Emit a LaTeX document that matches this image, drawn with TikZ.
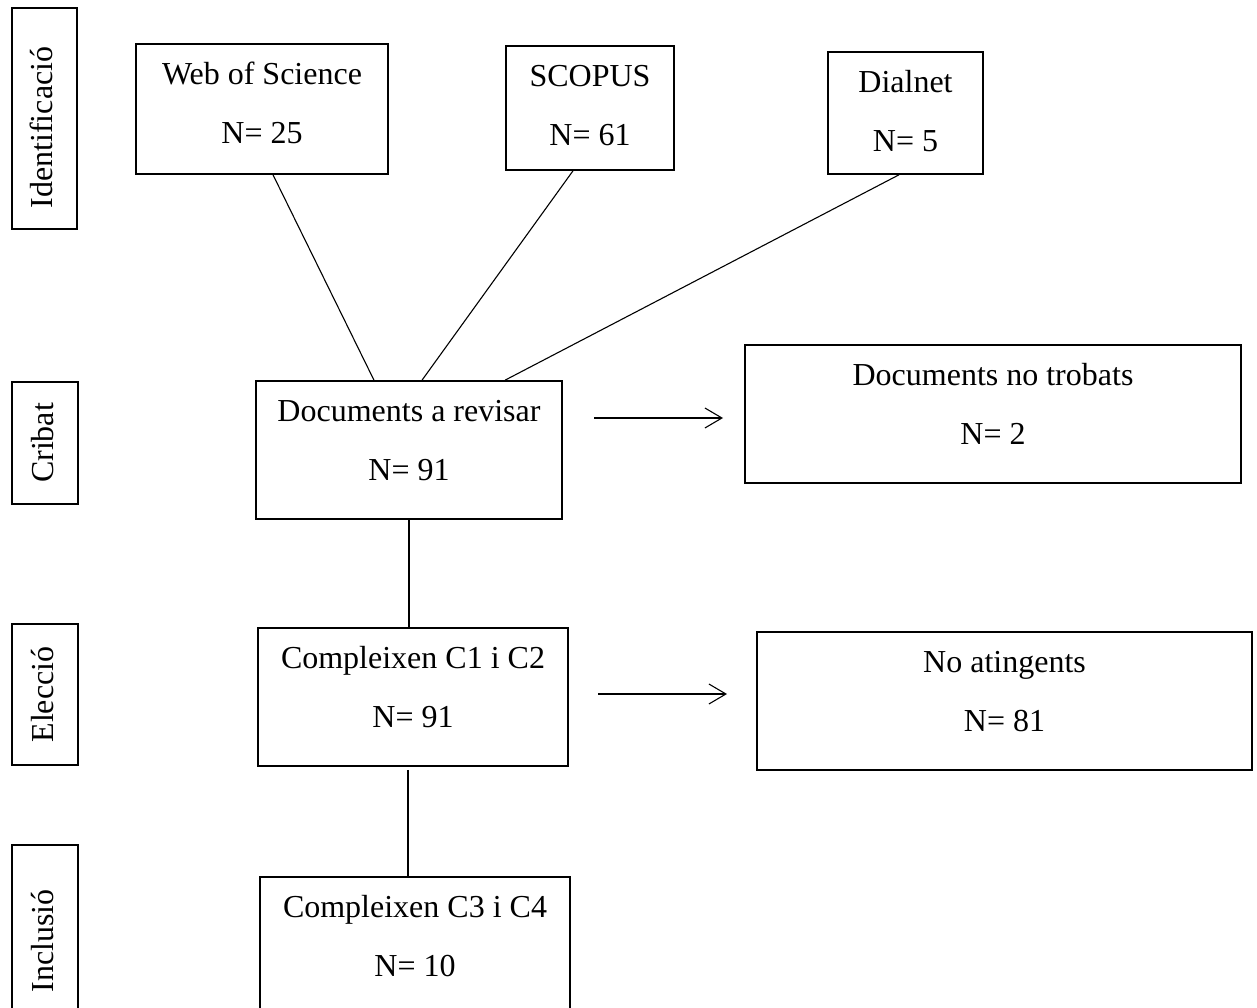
\documentclass[tikz,border=0pt]{standalone}
\usepackage{fontspec}
\setmainfont{Liberation Serif}
\usetikzlibrary{arrows.meta,calc}
\begin{document}
\begin{tikzpicture}[x=1pt,y=-1pt,
  box/.style={draw, line width=1.6pt, inner sep=0pt},
  txt/.style={font=\fontsize{32}{38}\selectfont, inner sep=0pt, text height=22pt, text depth=6pt},
  sidebox/.style={box, rotate=90, font=\fontsize{32}{38}\selectfont, text height=22pt, text depth=6pt},
  link/.style={line width=1.1pt},
  arr/.style={line width=1.1pt, -{Straight Barb[length=17pt,width=20pt,line width=1.1pt]}}]
\useasboundingbox (0,0) rectangle (1257,1008);
\fill[white] (0,0) rectangle (1257,1008);
\clip (0,0) rectangle (1257,1008);

% side labels
\node[sidebox, minimum width=221pt, minimum height=65pt] (sid) at (44.5,118.5) {Identificació\hspace*{18pt}};
\node[sidebox, minimum width=122pt, minimum height=66pt] (scr) at (45,443) {Cribat};
\node[sidebox, minimum width=141pt, minimum height=66pt] (sel) at (45,694.5) {Elecció};
\node[sidebox, minimum width=192pt, minimum height=66pt] (sin) at (45,941) {Inclusió};

% boxes
\node[box, minimum width=252pt, minimum height=130pt] (wos) at (262,109) {};
\node[box, minimum width=168pt, minimum height=124pt] (sco) at (590,108) {};
\node[box, minimum width=155pt, minimum height=122pt] (dia) at (905.5,113) {};
\node[box, minimum width=306pt, minimum height=138pt] (rev) at (409,450) {};
\node[box, minimum width=496pt, minimum height=138pt] (ntr) at (993,414) {};
\node[box, minimum width=310pt, minimum height=138pt] (c12) at (413,697) {};
\node[box, minimum width=495pt, minimum height=138pt] (nat) at (1004.5,701) {};
\node[box, minimum width=310pt, minimum height=138pt] (c34) at (415,946) {};

% texts
\node[txt] (wos1) at ($(wos.north)+(0,33)$) {Web of Science};
\node[txt] (wos2) at ($(wos.north)+(0,92)$) {N= 25};
\node[txt] (sco1) at ($(sco.north)+(0,33)$) {SCOPUS};
\node[txt] (sco2) at ($(sco.north)+(0,92)$) {N= 61};
\node[txt] (dia1) at ($(dia.north)+(0,33)$) {Dialnet};
\node[txt] (dia2) at ($(dia.north)+(0,92)$) {N= 5};
\node[txt] (rev1) at ($(rev.north)+(0,33)$) {Documents a revisar};
\node[txt] (rev2) at ($(rev.north)+(0,92)$) {N= 91};
\node[txt] (ntr1) at ($(ntr.north)+(0,33)$) {Documents no trobats};
\node[txt] (ntr2) at ($(ntr.north)+(0,92)$) {N= 2};
\node[txt] (c121) at ($(c12.north)+(0,33)$) {Compleixen C1 i C2};
\node[txt] (c122) at ($(c12.north)+(0,92)$) {N= 91};
\node[txt] (nat1) at ($(nat.north)+(0,33)$) {No atingents};
\node[txt] (nat2) at ($(nat.north)+(0,92)$) {N= 81};
\node[txt] (c341) at ($(c34.north)+(0,33)$) {Compleixen C3 i C4};
\node[txt] (c342) at ($(c34.north)+(0,92)$) {N= 10};

% connectors
\draw[link] ($(wos.south)+(11,0)$) -- ($(rev.north)+(-35,0)$);
\draw[link] ($(sco.south)+(-17,0)$) -- ($(rev.north)+(13,0)$);
\draw[link] ($(dia.south)+(-6.5,0)$) -- ($(rev.north)+(96,0)$);
\draw[link] (rev.south) -- (rev.south |- c12.north);
\coordinate (k1) at ($(c12.south)+(-5,3)$);
\draw[link] (k1) -- (k1 |- c34.north);

% arrows
\coordinate (a1s) at (594,418);
\coordinate (a1e) at (723,418);
\coordinate (a2s) at (598,694);
\coordinate (a2e) at (727,694);
\draw[arr] (a1s) -- (a1e);
\draw[arr] (a2s) -- (a2e);
\end{tikzpicture}
\end{document}
